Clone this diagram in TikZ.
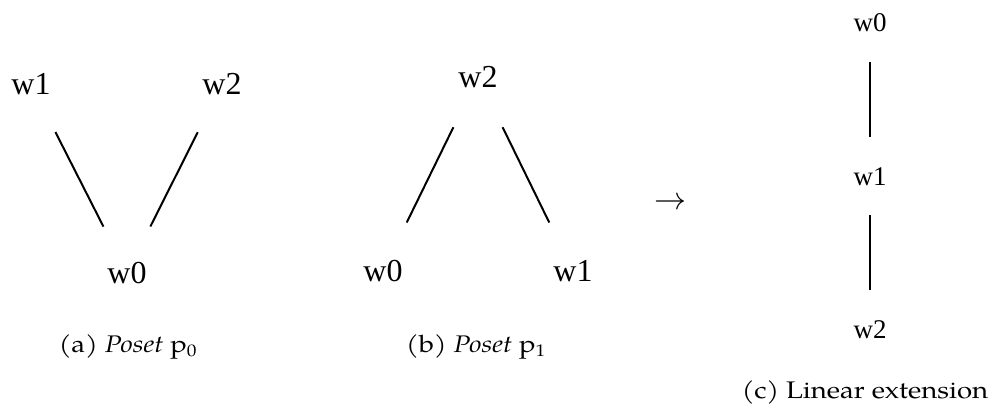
\documentclass[tikz,border=0pt]{standalone}
\usepackage{fix-cm}
\usepackage{fontspec}
\newfontfamily\posetfont{Liberation Serif}
\newfontfamily\capfont[FakeStretch=1.15]{TeX Gyre Pagella}
\begin{document}
\begin{tikzpicture}[x=1pt, y=-1pt,
  elem/.style={font=\posetfont\fontsize{32}{32}\selectfont},
  chain elem/.style={font=\posetfont\fontsize{27}{27}\selectfont},
  subcap/.style={anchor=base, font=\capfont\fontsize{24}{24}\selectfont},
  hasse/.style={line width=2pt}]
\useasboundingbox (0,0) rectangle (1002,419);
% Poset p0
\node[elem] (a1) at (31,84) {w1};
\node[elem] (a2) at (222,84) {w2};
\node[elem] (a0) at (127,273) {w0};
\draw[hasse, shorten <=54pt, shorten >=52pt] (a1.center) -- (a0.center);
\draw[hasse, shorten <=54pt, shorten >=52pt] (a2.center) -- (a0.center);
\node[subcap] (capa) at (128,353) {(a) \textit{Poset} p\textsubscript{0}};
% Poset p1
\node[elem] (b2) at (478,77) {w2};
\node[elem] (b0) at (383,271) {w0};
\node[elem] (b1) at (573,271) {w1};
\draw[hasse, shorten <=56pt, shorten >=54pt] (b2.center) -- (b0.center);
\draw[hasse, shorten <=56pt, shorten >=54pt] (b2.center) -- (b1.center);
\node[subcap] (capb) at (476,353) {(b) \textit{Poset} p\textsubscript{1}};
% Linear extension
\node[font=\fontsize{32}{32}\selectfont] (arr) at (670,204) {$\rightarrow$};
\node[chain elem] (c0) at (870,23) {w0};
\node[chain elem] (c1) at (870,177) {w1};
\node[chain elem] (c2) at (870,330) {w2};
\draw[hasse, shorten <=39pt, shorten >=40pt] (c0.center) -- (c1.center);
\draw[hasse, shorten <=38pt, shorten >=40pt] (c1.center) -- (c2.center);
\node[subcap] (capc) at (865,399) {(c) Linear extension};
\end{tikzpicture}
\end{document}
